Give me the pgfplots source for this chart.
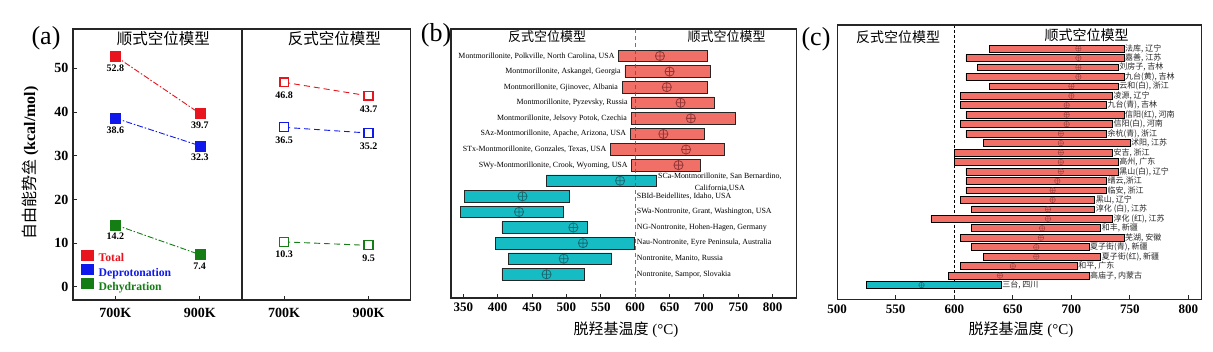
\documentclass[border=0pt]{standalone}
\usepackage{fontspec}
\setmainfont{Liberation Serif}
\newfontfamily\cjk{Noto Sans CJK SC}
\usepackage{pgfplots}
\usepackage{pgfplotstable}
\pgfplotsset{compat=1.18}
\newcommand\fs[1]{\fontsize{#1}{#1}\selectfont}

\definecolor{cR}{RGB}{232,20,30}
\definecolor{cB}{RGB}{15,25,235}
\definecolor{cG}{RGB}{20,125,20}
\definecolor{barR}{RGB}{240,112,104}
\definecolor{barC}{RGB}{22,188,196}
\definecolor{mkR}{RGB}{150,55,55}
\definecolor{mkC}{RGB}{25,105,112}

\pgfplotsset{
  /pgf/number format/assume math mode=true,
  /pgf/number format/1000 sep={},
  myframe/.style={axis line style={black!85, line width=1.1pt},
    tick style={black!85, line width=0.9pt}, tick align=inside, major tick length=4pt},
}

% panel (b): row, left end, red length, cyan length, centre mark, label
\pgfplotstableread[col sep=semicolon]{
y;l;wr;wc;c;lab
1;576;129;0;636;Montmorillonite, Polkville, North Carolina, USA
2;585;125;0;650;Montmorillonite, Askangel, Georgia
3;581;124;0;646;Montmorillonite, Gjinovec, Albania
4;595;120;0;666;Montmorillonite, Pyzevsky, Russia
5;594;152;0;681;Montmorillonite, Jelsovy Potok, Czechia
6;593;107;0;641;SAz-Montmorillonite, Apache, Arizona, USA
7;564;166;0;674;STx-Montmorillonite, Gonzales, Texas, USA
8;595;100;0;663;SWy-Montmorillonite, Crook, Wyoming, USA
9;471;0;160;578;SCa
10;351;0;153;436;SBId-Beidellites, Idaho, USA
11;346;0;150;431;SWa-Nontronite, Grant, Washington, USA
12;406;0;125;510;NG-Nontronite, Hohen-Hagen, Germany
13;397;0;202;524;Nau-Nontronite, Eyre Peninsula, Australia
14;416;0;150;496;Nontronite, Manito, Russia
15;406;0;120;471;Nontronite, Sampor, Slovakia
}\tbB

% panel (c)
\pgfplotstableread[col sep=semicolon]{
y;l;wr;wc;c;lab
1;630;115;0;706;法库, 辽宁
2;610;135;0;706;嘉善, 江苏
3;620;120;0;706;刘房子, 吉林
4;610;135;0;706;九台(黄), 吉林
5;630;110;0;700;云和(白), 浙江
6;605;130;0;700;凌源, 辽宁
7;605;125;0;696;九台(青), 吉林
8;610;135;0;696;信阳(红), 河南
9;605;130;0;696;信阳(白), 河南
10;610;120;0;691;余杭(青), 浙江
11;625;125;0;691;沭阳, 江苏
12;600;135;0;691;安吉, 浙江
13;600;140;0;691;高州, 广东
14;610;130;0;691;黑山(白), 辽宁
15;610;120;0;688;缙云,浙江
16;610;120;0;684;临安, 浙江
17;605;115;0;684;黑山, 辽宁
18;615;105;0;680;淳化 (白), 江苏
19;580;155;0;680;淳化 (红), 江苏
20;615;110;0;675;和丰, 新疆
21;605;140;0;674;芜湖, 安徽
22;615;100;0;670;夏子街(青), 新疆
23;625;100;0;670;夏子街(红), 新疆
24;605;100;0;650;和平, 广东
25;595;120;0;639;高庙子, 内蒙古
26;525;0;115;572;三台, 四川
}\tbC

\begin{document}
\begin{tikzpicture}
\path[use as bounding box] (0pt,0pt) rectangle (1213pt,351pt);

% ---------------- panel (a), left ----------------
\begin{axis}[
  at={(73pt,51pt)}, anchor=south west, scale only axis, width=169pt, height=271pt,
  xmin=-0.5, xmax=1.5, ymin=-3, ymax=59,
  xtick={0,1}, xticklabels={700K,900K}, ytick={0,10,20,30,40,50},
  tick pos=left, myframe,
  ticklabel style={font=\fs{14}\bfseries},
  xticklabel style={yshift=-5pt}, yticklabel style={xshift=-1pt},
  clip=false,
  legend cell align=left,
  legend style={at={(axis description cs:0.05,0.186)}, anchor=north west,
    draw=none, fill=none, inner sep=0pt, outer sep=0pt,
    row sep=-1.3pt, column sep=4.3pt, font=\fs{11.7}\bfseries,
    nodes={inner sep=0.5pt, text depth=2.7pt, text height=9.7pt}},
  lab/.style={nodes near coords, point meta=explicit symbolic,
    nodes near coords align={below},
    every node near coord/.append style={font=\fs{10}\bfseries, text=black, yshift=-4.8pt}},
]
\addplot[cR, line width=0.9pt, dash pattern=on 6pt off 2pt on 1.5pt off 2pt,
  mark=square*, mark size=5pt, mark options={solid, fill=cR, draw=cR, line width=0.4pt}, lab, forget plot]
  coordinates {(0,52.8)[52.8] (1,39.7)[39.7]};
\addplot[cB, line width=0.9pt, dash pattern=on 6pt off 2pt on 1.5pt off 2pt,
  mark=square*, mark size=5pt, mark options={solid, fill=cB, draw=cB, line width=0.4pt}, lab, forget plot]
  coordinates {(0,38.6)[38.6] (1,32.3)[32.3]};
\addplot[cG, line width=0.9pt, dash pattern=on 6pt off 2pt on 1.5pt off 2pt,
  mark=square*, mark size=5pt, mark options={solid, fill=cG, draw=cG, line width=0.4pt}, lab, forget plot]
  coordinates {(0,14.2)[14.2] (1,7.4)[7.4]};
\addlegendimage{legend image code/.code={\fill[cR] (0pt,-1.3pt) rectangle (12pt,8.7pt);}}
\addlegendentry{\textcolor{cR}{Total}}
\addlegendimage{legend image code/.code={\fill[cB] (0pt,-1.3pt) rectangle (12pt,8.7pt);}}
\addlegendentry{\textcolor{cB}{Deprotonation}}
\addlegendimage{legend image code/.code={\fill[cG] (0pt,-1.3pt) rectangle (12pt,8.7pt);}}
\addlegendentry{\textcolor{cG}{Dehydration}}
\end{axis}

% ---------------- panel (a), right ----------------
\begin{axis}[
  at={(242pt,51pt)}, anchor=south west, scale only axis, width=168.7pt, height=271pt,
  xmin=-0.5, xmax=1.5, ymin=-3, ymax=59,
  xtick={0,1}, xticklabels={700K,900K}, ytick=\empty,
  tick pos=left, myframe,
  ticklabel style={font=\fs{14}\bfseries},
  xticklabel style={yshift=-5pt},
  clip=false,
  lab/.style={nodes near coords, point meta=explicit symbolic,
    nodes near coords align={below},
    every node near coord/.append style={font=\fs{10}\bfseries, text=black, yshift=-5.5pt}},
]
\addplot[cR, line width=0.9pt, dash pattern=on 6pt off 4pt,
  mark=square*, mark size=4.3pt, mark options={solid, fill=white, draw=cR, line width=1.6pt}, lab]
  coordinates {(0,46.8)[46.8] (1,43.7)[43.7]};
\addplot[cB, line width=0.9pt, dash pattern=on 6pt off 4pt,
  mark=square*, mark size=4.5pt, mark options={solid, fill=white, draw=cB, line width=1.1pt}, lab]
  coordinates {(0,36.5)[36.5] (1,35.2)[35.2]};
\addplot[cG, line width=0.9pt, dash pattern=on 6pt off 4pt,
  mark=square*, mark size=4.5pt, mark options={solid, fill=white, draw=cG, line width=1.1pt}, lab]
  coordinates {(0,10.3)[10.3] (1,9.5)[9.5]};
\end{axis}

% ---------------- panel (b) bars ----------------
\begin{axis}[
  at={(451pt,53pt)}, anchor=south west, scale only axis, width=345.7pt, height=269pt,
  xmin=332, xmax=835, ymin=-0.73, ymax=16.52, y dir=reverse,
  xtick={350,400,...,800}, ytick=\empty, tick pos=left, myframe,
  ticklabel style={font=\fs{13}\bfseries}, xticklabel style={yshift=-1.7pt},
  xbar stacked, bar width=0.75,
]
\addplot[draw=none, fill=none] table[x=l, y=y]{\tbB};
\addplot[draw=black!85, fill=barR, line width=0.7pt] table[x=wr, y=y]{\tbB};
\addplot[draw=black!85, fill=barC, line width=0.7pt] table[x=wc, y=y]{\tbB};
\end{axis}
% ---------------- panel (b) overlay ----------------
\begin{axis}[
  at={(451pt,53pt)}, anchor=south west, scale only axis, width=345.7pt, height=269pt,
  xmin=332, xmax=835, ymin=-0.73, ymax=16.52, y dir=reverse, hide axis, clip=false,
]
\addplot[black!65, line width=1.3pt, dash pattern=on 4pt off 3pt, opacity=0.85]
  coordinates {(600,-0.73) (600,16.52)};
\addplot[only marks, mark=oplus, mark size=4.6pt, mkR, mark options={line width=0.8pt},
  restrict y to domain=0.5:8.5] table[x=c, y=y]{\tbB};
\addplot[only marks, mark=oplus, mark size=4.6pt, mkC, mark options={line width=0.8pt},
  restrict y to domain=8.5:15.5] table[x=c, y=y]{\tbB};
\addplot[draw=none, restrict y to domain=0.5:8.5, nodes near coords, point meta=explicit symbolic,
  nodes near coords align={left},
  every node near coord/.append style={font=\fs{7.9}, text=black, inner sep=1pt, xshift=-3pt}]
  table[x=l, y=y, meta=lab]{\tbB};
\addplot[draw=none, restrict y to domain=9.5:15.5, nodes near coords, point meta=explicit symbolic,
  nodes near coords align={right},
  every node near coord/.append style={font=\fs{7.9}, text=black, inner sep=1.5pt}]
  table[x expr=600, y=y, meta=lab]{\tbB};
\node[anchor=west, align=center, font=\fontsize{7.9}{11.6}\selectfont, inner sep=1.5pt]
  at (axis cs:631,9.1) {SCa-Montmorillonite, San Bernardino,\\California,USA};
\end{axis}

% ---------------- panel (c) dashed line (behind) ----------------
\begin{axis}[
  at={(837.2pt,51.7pt)}, anchor=south west, scale only axis, width=364.1pt, height=274.3pt,
  xmin=500, xmax=811, ymin=-1.48, ymax=27.51, y dir=reverse, hide axis,
]
\addplot[black, line width=0.9pt, dash pattern=on 3pt off 2pt]
  coordinates {(600,-1.48) (600,27.51)};
\end{axis}
% ---------------- panel (c) bars ----------------
\begin{axis}[
  at={(837.2pt,51.7pt)}, anchor=south west, scale only axis, width=364.1pt, height=274.3pt,
  xmin=500, xmax=811, ymin=-1.48, ymax=27.51, y dir=reverse,
  xtick={500,550,...,800}, ytick=\empty, tick pos=left, myframe,
  ticklabel style={font=\fs{13}\bfseries}, xticklabel style={yshift=-2pt},
  xbar stacked, bar width=0.72,
]
\addplot[draw=none, fill=none] table[x=l, y=y]{\tbC};
\addplot[draw=black, fill=barR, line width=0.7pt] table[x=wr, y=y]{\tbC};
\addplot[draw=black, fill=barC, line width=0.7pt] table[x=wc, y=y]{\tbC};
\end{axis}
% ---------------- panel (c) overlay ----------------
\begin{axis}[
  at={(837.2pt,51.7pt)}, anchor=south west, scale only axis, width=364.1pt, height=274.3pt,
  xmin=500, xmax=811, ymin=-1.48, ymax=27.51, y dir=reverse, hide axis, clip=false,
]
\addplot[only marks, mark=oplus, mark size=2.8pt, mkR, opacity=0.8, mark options={line width=0.5pt},
  restrict y to domain=0.5:25.5] table[x=c, y=y]{\tbC};
\addplot[only marks, mark=oplus, mark size=2.8pt, mkC, mark options={line width=0.5pt},
  restrict y to domain=25.5:26.5] table[x=c, y=y]{\tbC};
\addplot[draw=none, nodes near coords, point meta=explicit symbolic,
  nodes near coords align={right},
  every node near coord/.append style={font=\cjk\fs{8}, text=black!85, inner sep=1pt}]
  table[x expr=\thisrow{l}+\thisrow{wr}+\thisrow{wc}, y=y, meta=lab]{\tbC};
\end{axis}

% ---------------- titles and labels ----------------
\node[font=\cjk\fs{15.5}] at (163.3pt,312.7pt) {顺式空位模型};
\node[font=\cjk\fs{15.5}] at (334.3pt,312.7pt) {反式空位模型};
\node[font=\cjk\fs{13}] at (547pt,314.3pt) {反式空位模型};
\node[font=\cjk\fs{13}] at (726.7pt,314.3pt) {顺式空位模型};
\node[font=\cjk\fs{14}] at (898pt,314.3pt) {反式空位模型};
\node[font=\cjk\fs{14}] at (1086.7pt,316pt) {顺式空位模型};
\node[font=\fs{26}] at (46pt,313pt) {(a)};
\node[font=\fs{26}] at (436pt,316pt) {(b)};
\node[font=\fs{26}] at (816pt,312pt) {(c)};
\node[rotate=90, font=\fs{16}] at (30pt,188pt) {{\cjk 自由能势垒} \textbf{(kcal/mol)}};
\node[font=\fs{15}] at (626pt,21pt) {{\cjk 脱羟基温度} (°C)};
\node[font=\fs{15}] at (1021pt,21pt) {{\cjk 脱羟基温度} (°C)};
\end{tikzpicture}
\end{document}
